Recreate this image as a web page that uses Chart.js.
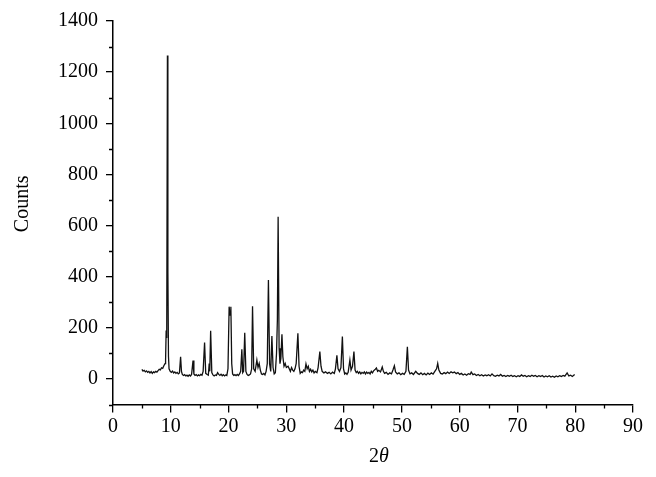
<!DOCTYPE html>
<html>
<head>
<meta charset="utf-8">
<title>XRD pattern</title>
<script src="https://cdn.jsdelivr.net/npm/chart.js@4.4.1/dist/chart.umd.min.js"></script>
<style>
    body { margin: 0; background: #fff; }
    #wrap { width: 656px; height: 477px; }
</style>
</head>
<body>
<div id="wrap"><canvas id="xrdChart" width="656" height="477"></canvas></div>
<script>
// 2theta positions (degrees)
const twoTheta = [
    5.0, 5.2, 5.4, 5.6, 5.8, 6.0, 6.2, 6.4, 6.6, 6.8,
    7.0, 7.2, 7.4, 7.6, 7.8, 8.0, 8.2, 8.4, 8.6, 8.8,
    9.0, 9.1, 9.2, 9.3, 9.42, 9.5, 9.6, 9.7, 9.9, 10.1,
    10.3, 10.5, 10.7, 10.9, 11.1, 11.3, 11.5, 11.7, 11.85, 12.0,
    12.2, 12.4, 12.6, 12.8, 13.0, 13.2, 13.4, 13.6, 13.85, 14.0,
    14.2, 14.4, 14.6, 14.8, 15.0, 15.2, 15.4, 15.6, 15.85, 16.05,
    16.3, 16.5, 16.65, 16.75, 16.9, 17.1, 17.3, 17.5, 17.7, 17.9,
    18.1, 18.3, 18.5, 18.7, 18.9, 19.1, 19.3, 19.5, 19.7, 19.9,
    20.1, 20.25, 20.4, 20.55, 20.7, 20.9, 21.1, 21.3, 21.5, 21.7,
    21.9, 22.1, 22.3, 22.45, 22.6, 22.8, 23.0, 23.2, 23.4, 23.6,
    23.8, 24.0, 24.15, 24.35, 24.6, 24.9, 25.1, 25.3, 25.5, 25.7,
    25.9, 26.1, 26.3, 26.5, 26.7, 26.9, 27.1, 27.3, 27.5, 27.7,
    27.9, 28.1, 28.3, 28.45, 28.58, 28.75, 28.9, 29.05, 29.24, 29.4,
    29.6, 29.8, 30.0, 30.3, 30.5, 30.7, 30.9, 31.1, 31.3, 31.5,
    31.7, 32.0, 32.2, 32.4, 32.6, 32.8, 33.0, 33.2, 33.4, 33.6,
    33.8, 34.0, 34.2, 34.4, 34.6, 34.8, 35.0, 35.3, 35.5, 35.8,
    36.0, 36.2, 36.5, 36.8, 37.1, 37.4, 37.7, 38.0, 38.3, 38.5,
    38.75, 38.95, 39.2, 39.45, 39.7, 39.9, 40.1, 40.3, 40.5, 40.7,
    41.0, 41.2, 41.45, 41.7, 41.9, 42.1, 42.3, 42.5, 42.7, 42.9,
    43.1, 43.3, 43.5, 43.7, 43.9, 44.1, 44.3, 44.5, 44.7, 44.9,
    45.1, 45.4, 45.6, 45.8, 46.0, 46.3, 46.6, 46.8, 47.0, 47.3,
    47.6, 47.9, 48.2, 48.45, 48.7, 48.9, 49.2, 49.5, 49.8, 50.1,
    50.4, 50.7, 50.95, 51.15, 51.4, 51.7, 52.0, 52.4, 52.7, 53.0,
    53.3, 53.6, 53.9, 54.2, 54.5, 54.8, 55.1, 55.4, 55.7, 56.0,
    56.2, 56.4, 56.7, 57.0, 57.3, 57.6, 57.9, 58.2, 58.5, 58.8,
    59.1, 59.4, 59.7, 60.0, 60.3, 60.6, 60.9, 61.2, 61.5, 61.8,
    62.0, 62.3, 62.6, 62.9, 63.2, 63.5, 63.8, 64.1, 64.4, 64.7,
    65.0, 65.3, 65.6, 65.9, 66.2, 66.5, 66.8, 67.1, 67.4, 67.7,
    68.0, 68.3, 68.6, 68.9, 69.2, 69.5, 69.8, 70.1, 70.4, 70.7,
    71.0, 71.3, 71.6, 71.9, 72.2, 72.5, 72.8, 73.1, 73.4, 73.7,
    74.0, 74.3, 74.6, 74.9, 75.2, 75.5, 75.8, 76.1, 76.4, 76.7,
    77.0, 77.3, 77.6, 77.9, 78.2, 78.6, 78.9, 79.2, 79.5, 79.9
];

// intensity (counts) at each position
const counts = [
    38, 31, 34, 28, 32, 26, 30, 24, 29, 22,
    28, 25, 30, 27, 33, 38, 36, 44, 42, 52,
    60, 75, 190, 160, 1265, 420, 90, 40, 30, 26,
    31, 24, 28, 22, 26, 20, 24, 87, 30, 18,
    14, 17, 12, 15, 11, 16, 12, 18, 72, 20,
    14, 17, 12, 16, 13, 18, 15, 30, 143, 22,
    18, 15, 61, 30, 189, 25, 16, 12, 16, 14,
    25, 18, 14, 19, 13, 17, 12, 16, 14, 40,
    283, 250, 283, 60, 20, 14, 17, 13, 18, 14,
    20, 30, 116, 25, 30, 181, 30, 18, 14, 16,
    20, 40, 285, 40, 30, 74, 45, 61, 35, 20,
    18, 22, 16, 30, 60, 387, 60, 30, 168, 45,
    20, 25, 100, 231, 635, 120, 60, 80, 175, 87,
    50, 61, 45, 50, 40, 30, 45, 35, 30, 40,
    60, 179, 50, 22, 28, 25, 35, 30, 59, 40,
    50, 30, 38, 28, 35, 24, 30, 25, 45, 107,
    50, 30, 24, 28, 22, 26, 20, 27, 22, 40,
    93, 40, 30, 45, 166, 40, 20, 24, 18, 26,
    74, 35, 50, 107, 35, 25, 30, 22, 28, 20,
    26, 22, 28, 20, 27, 22, 26, 20, 30, 24,
    32, 38, 43, 30, 34, 28, 47, 30, 22, 26,
    18, 24, 20, 35, 52, 28, 20, 24, 17, 22,
    18, 30, 126, 35, 20, 24, 18, 30, 22, 18,
    24, 17, 22, 16, 23, 18, 24, 19, 30, 40,
    61, 35, 22, 20, 25, 21, 27, 22, 28, 24,
    27, 21, 25, 18, 22, 16, 20, 15, 21, 18,
    27, 17, 20, 14, 18, 13, 17, 12, 16, 13,
    17, 12, 20, 13, 11, 15, 12, 18, 11, 14,
    10, 14, 11, 15, 10, 13, 9, 13, 10, 16,
    11, 14, 9, 13, 10, 15, 11, 14, 9, 13,
    10, 14, 8, 12, 9, 13, 8, 11, 7, 12,
    9, 13, 10, 14, 11, 24, 12, 15, 10, 18
];

const xTickLabels = [0, 10, 20, 30, 40, 50, 60, 70, 80, 90];
const yTickLabels = [0, 200, 400, 600, 800, 1000, 1200, 1400];

const serif = "'Liberation Serif', 'Times New Roman', serif";

// short minor ticks, the "Counts" title and the "2θ" title with an italic theta
const axisExtras = {
    id: 'axisExtras',
    afterDraw(chart) {
        const ctx = chart.ctx;
        const x = chart.scales.x;
        const y = chart.scales.y;
        ctx.save();
        ctx.strokeStyle = '#000';
        ctx.lineWidth = 1.3;
        ctx.beginPath();
        x.ticks.forEach(t => {
            if (!xTickLabels.includes(t.value)) {
                const px = Math.round(x.getPixelForValue(t.value)) + 0.5;
                ctx.moveTo(px, x.top);
                ctx.lineTo(px, x.top + 4);
            }
        });
        y.ticks.forEach(t => {
            if (!yTickLabels.includes(t.value)) {
                const py = Math.round(y.getPixelForValue(t.value)) + 0.5;
                ctx.moveTo(y.right, py);
                ctx.lineTo(y.right - 4, py);
            }
        });
        ctx.stroke();

        ctx.fillStyle = '#000';
        ctx.textBaseline = 'middle';

        // y title, sitting a little above the plot's middle as in the original
        ctx.save();
        ctx.translate(y.left + 23, (chart.chartArea.top + chart.chartArea.bottom) / 2 - 9);
        ctx.rotate(-Math.PI / 2);
        ctx.textAlign = 'center';
        ctx.font = '20px ' + serif;
        ctx.fillText('Counts', 0, 0);
        ctx.restore();

        const cx = (chart.chartArea.left + chart.chartArea.right) / 2 + 6;
        const cy = x.bottom - 20;
        ctx.font = '20px ' + serif;
        const w2 = ctx.measureText('2').width;
        ctx.font = 'italic 20px ' + serif;
        const wt = ctx.measureText('\u03B8').width;
        const start = cx - (w2 + wt) / 2;
        ctx.font = '20px ' + serif;
        ctx.textAlign = 'left';
        ctx.fillText('2', start, cy);
        ctx.font = 'italic 20px ' + serif;
        ctx.fillText('\u03B8', start + w2, cy);
        ctx.restore();
    }
};

document.addEventListener('DOMContentLoaded', function() {
    const ctx = document.getElementById('xrdChart').getContext('2d');
    const points = twoTheta.map((t, i) => ({ x: t, y: counts[i] }));

    new Chart(ctx, {
        type: 'line',
        data: {
            datasets: [{
                data: points,
                borderColor: '#111',
                borderWidth: 1.3,
                pointRadius: 0,
                tension: 0,
                fill: false
            }]
        },
        options: {
            responsive: false,
            animation: false,
            layout: { padding: { left: 0, right: 23, top: 21, bottom: 0 } },
            plugins: {
                legend: { display: false },
                tooltip: { enabled: false }
            },
            scales: {
                x: {
                    type: 'linear',
                    min: 0,
                    max: 90,
                    afterFit: s => { s.height = 72.4; },
                    border: { color: '#000', width: 1.5 },
                    grid: {
                        drawOnChartArea: false,
                        tickLength: 8,
                        lineWidth: 1.3,
                        color: c => (c.tick && xTickLabels.includes(c.tick.value)) ? '#000' : 'rgba(0,0,0,0)'
                    },
                    ticks: {
                        stepSize: 5,
                        autoSkip: false,
                        maxRotation: 0,
                        padding: 2,
                        color: '#000',
                        font: { family: serif, size: 20 },
                        callback: v => xTickLabels.includes(v) ? String(v) : ''
                    }
                },
                y: {
                    min: -100,
                    max: 1400,
                    afterFit: s => { s.width = 113; },
                    border: { color: '#000', width: 1.5 },
                    grid: {
                        drawOnChartArea: false,
                        tickLength: 7,
                        lineWidth: 1.3,
                        color: c => (c.tick && yTickLabels.includes(c.tick.value)) ? '#000' : 'rgba(0,0,0,0)'
                    },
                    ticks: {
                        stepSize: 100,
                        autoSkip: false,
                        padding: 8,
                        color: '#000',
                        font: { family: serif, size: 20 },
                        callback: v => yTickLabels.includes(v) ? String(v) : ''
                    }
                }
            }
        },
        plugins: [axisExtras]
    });
});
</script>
</body>
</html>
